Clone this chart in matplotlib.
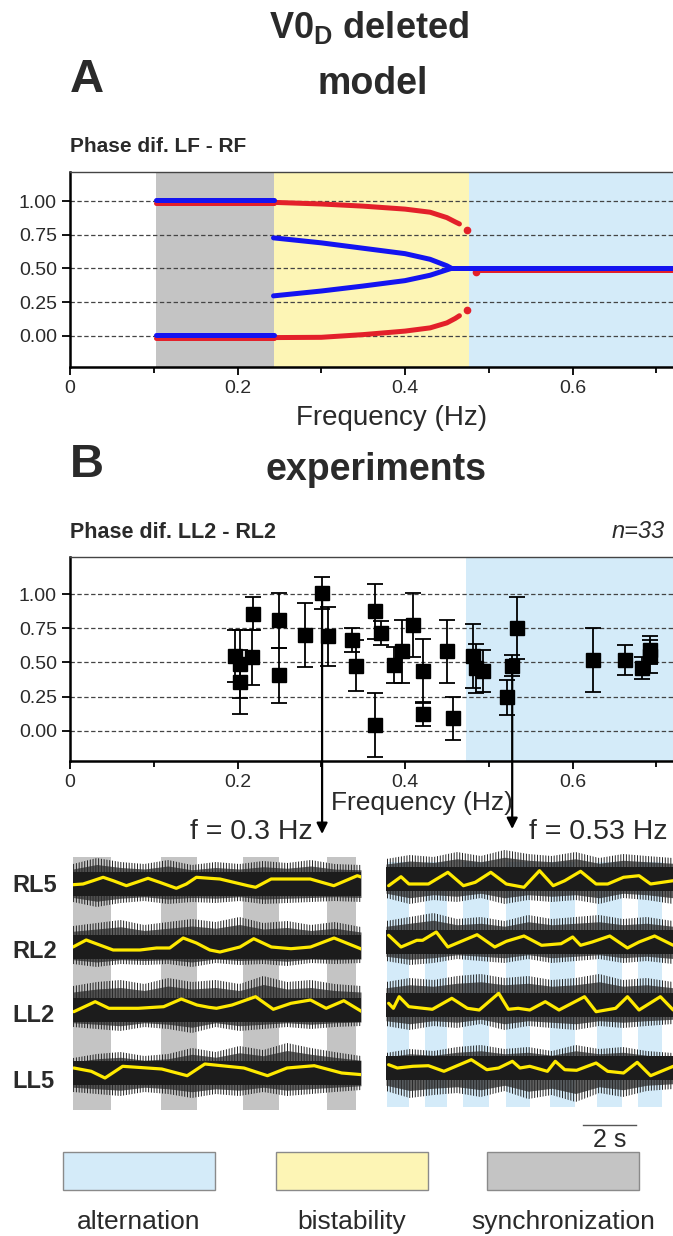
import numpy as np
import matplotlib.pyplot as plt
from matplotlib.patches import Rectangle
from matplotlib.transforms import blended_transform_factory

plt.rcParams['font.family'] = ['Liberation Sans', 'DejaVu Sans']
plt.rcParams['mathtext.fontset'] = 'custom'
plt.rcParams['mathtext.bf'] = 'Liberation Sans:bold'
plt.rcParams['mathtext.rm'] = 'Liberation Sans'
plt.rcParams['hatch.linewidth'] = 0.7

# ---------------- datos ----------------
# regiones (Hz)
sync_lim = [0.103, 0.243]
bist_lim = [0.243, 0.476]
alt_lim_a = [0.476, 0.72]
alt_lim_b = [0.473, 0.72]

# modelo: sincronizacion
sync_f = [0.103, 0.243]
sync_blue_hi = [1.005, 1.005]
sync_red_hi = [0.985, 0.985]
sync_blue_lo = [0.005, 0.005]
sync_red_lo = [-0.018, -0.018]

# modelo: biestabilidad
red_hi_f = [0.243, 0.30, 0.35, 0.40, 0.43, 0.45, 0.46, 0.465]
red_hi_v = [0.99, 0.978, 0.962, 0.94, 0.917, 0.877, 0.845, 0.83]
red_lo_f = [0.243, 0.30, 0.35, 0.40, 0.43, 0.45, 0.46, 0.465]
red_lo_v = [-0.012, -0.01, 0.01, 0.036, 0.06, 0.097, 0.13, 0.15]
red_dots_f = [0.474, 0.474, 0.485]
red_dots_v = [0.785, 0.19, 0.475]
blue_hi_f = [0.243, 0.30, 0.35, 0.40, 0.43, 0.45, 0.455]
blue_hi_v = [0.727, 0.69, 0.65, 0.61, 0.568, 0.52, 0.503]
blue_lo_f = [0.243, 0.30, 0.35, 0.40, 0.43, 0.45, 0.455]
blue_lo_v = [0.297, 0.333, 0.37, 0.41, 0.45, 0.49, 0.50]

# modelo: alternancia
alt_blue_f = [0.455, 0.72]
alt_blue_v = [0.505, 0.505]
alt_red_f = [0.49, 0.72]
alt_red_v = [0.49, 0.49]

# experimentos
exp_f = [0.197, 0.203, 0.203, 0.217, 0.219, 0.250, 0.250, 0.280, 0.301, 0.308,
         0.337, 0.341, 0.364, 0.371, 0.364, 0.387, 0.396, 0.410, 0.422, 0.422,
         0.450, 0.457, 0.481, 0.485, 0.493, 0.522, 0.528, 0.534, 0.624, 0.663,
         0.683, 0.693, 0.693]
exp_phase = [0.548, 0.487, 0.357, 0.538, 0.857, 0.807, 0.406, 0.702, 1.009, 0.690,
             0.665, 0.477, 0.874, 0.715, 0.040, 0.482, 0.580, 0.776, 0.440, 0.121,
             0.580, 0.090, 0.548, 0.457, 0.437, 0.244, 0.477, 0.751, 0.518, 0.518,
             0.457, 0.590, 0.545]
exp_err = [0.19, 0.25, 0.236, 0.20, 0.12, 0.20, 0.20, 0.233, 0.12, 0.215,
           0.09, 0.19, 0.20, 0.09, 0.235, 0.13, 0.233, 0.235, 0.23, 0.085,
           0.233, 0.16, 0.233, 0.18, 0.153, 0.13, 0.08, 0.225, 0.234, 0.11,
           0.08, 0.10, 0.12]
ejemplos = [(0.301, 1.009, 'f = 0.3 Hz'), (0.528, 0.477, 'f = 0.53 Hz')]

# registros (s) : barras de fase
gray_bars = [(0.0, 1.45), (3.33, 4.69), (6.44, 7.8), (9.6, 10.7)]
blue_bars = [(0.02, 0.86), (1.48, 2.3), (2.94, 3.9), (4.54, 5.45),
             (6.24, 7.16), (8.02, 8.98), (9.56, 10.5)]
nervios = ['RL5', 'RL2', 'LL2', 'LL5']

# envolvente integrada (linea amarilla), tiempo (s) y amplitud (u.a.)
izq_t = [
    [0.0, 0.38, 0.76, 1.14, 1.52, 2.02, 2.40, 2.84, 3.28, 3.91, 4.29, 4.67, 5.18, 5.56,
     6.62, 6.91, 7.50, 8.98, 9.87, 10.76, 10.94],
    [0.0, 0.50, 1.01, 1.52, 2.53, 3.16, 3.66, 4.17, 4.67, 5.18, 5.56, 6.32, 6.84, 7.51,
     8.25, 8.99, 9.88, 10.94],
    [0.03, 0.84, 1.36, 2.47, 3.43, 4.10, 4.69, 5.14, 5.43, 6.02, 6.91, 7.58, 8.25, 8.99,
     9.58, 10.25, 10.94],
    [0.03, 0.69, 1.21, 1.88, 3.36, 4.32, 4.99, 6.47, 7.36, 8.10, 9.13, 10.17, 10.94],
]
izq_y = [
    [-0.7, 0, 3.3, 6.7, 3.3, -1.7, 1.7, 5.7, 1.7, -4.3, 0, 6.7, 5.7, 5,
     -1.7, -3.3, 5, 5, -1.7, 8.3, 6.7],
    [0, 7, 2, -3, -3, -1, -1, 9, 4, -3, -5, 0, 8.3, 0, -1.7, 0, 9, -2.3],
    [-1.7, 8.3, 1.7, 1.7, 3.3, 11, 5, 2.7, 1.7, 5, 13.3, 0.7, 6.7, 10, 1.7, 9.3, -1.7],
    [5, 1.7, -5, 6.7, 4, -2.7, 9, 5, -2.7, 5, 7.3, 0, -1.7],
]
der_t = [
    [0.10, 0.57, 0.87, 1.61, 2.35, 2.94, 3.39, 3.98, 4.57, 5.24, 5.83, 6.35, 6.79, 7.39,
     7.98, 8.42, 9.02, 9.61, 10.05, 10.91],
    [0.10, 0.57, 1.17, 1.39, 1.91, 2.35, 2.80, 3.46, 4.13, 4.57, 5.24, 5.91, 6.65, 7.09,
     7.39, 7.83, 8.50, 9.17, 9.61, 10.20, 10.91],
    [0.10, 0.28, 0.50, 0.87, 1.76, 2.50, 3.09, 3.54, 4.28, 4.65, 5.02, 5.46, 6.05, 6.57,
     7.54, 7.98, 8.72, 9.17, 9.61, 10.42, 10.91],
    [0.10, 0.43, 1.02, 1.61, 2.20, 3.24, 3.83, 4.28, 4.80, 5.09, 5.46, 6.13, 6.43, 6.79,
     7.24, 7.98, 8.42, 9.02, 9.54, 10.05, 10.91],
]
der_y = [
    [-6.7, 2.3, -5, -5, 6.7, -6.7, -3.3, 6.7, -5, -8.3, 8.3, -6.7, -1.7, 7.7, -5, -5, 1.7, 3.3, -5, -1.7],
    [6.7, -5, 1.7, 1.7, 10, -5, 0, 7.3, -5, 0.7, 6, -3.3, -1.7, 5, -3.3, 0, 6, -6, 0, 6, -3.3],
    [1.7, -3.3, 8.3, -1.7, -4.3, 6.7, -3.3, -5, 11.7, -4.3, -3.3, -5, 3.3, -5, 8.3, -6.7, -3.3, 8.3, -5, 8.3, -5],
    [3.3, 0, 1.7, 2.3, -3.3, 8.3, -1.7, 0, 6.7, 0, 1.7, -3.3, 6.7, -1.7, -2.3, 5, -3.3, -5, 5.7, -7.7, 1.7],
]

# envolvente del ruido EMG (u.a. por encima / debajo de la linea base)
banda_t = [0, 0.9, 1.8, 2.7, 3.6, 4.5, 5.4, 6.3, 7.2, 8.1, 9.0, 9.9, 10.9]
izq_sup = [[20, 26, 22, 20, 24, 19, 22, 20, 23, 21, 24, 20, 19],
           [21, 24, 27, 22, 25, 28, 25, 30, 24, 26, 22, 25, 20],
           [24, 28, 30, 26, 32, 28, 30, 26, 34, 28, 30, 26, 24],
           [15, 19, 21, 17, 19, 25, 21, 27, 23, 30, 25, 21, 17]]
izq_inf = [[18, 23, 19, 17, 20, 18, 19, 17, 20, 19, 18, 17, 18],
           [17, 20, 17, 18, 17, 20, 16, 18, 17, 19, 16, 17, 16],
           [17, 19, 21, 17, 19, 23, 17, 21, 19, 17, 19, 17, 16],
           [19, 21, 23, 19, 21, 25, 21, 23, 19, 23, 21, 19, 17]]
der_sup = [[20, 24, 22, 27, 23, 29, 25, 23, 27, 21, 25, 23, 21],
           [21, 25, 29, 23, 25, 21, 27, 23, 25, 27, 23, 25, 21],
           [23, 27, 25, 29, 31, 27, 29, 25, 27, 31, 25, 27, 23],
           [15, 19, 17, 21, 23, 19, 21, 17, 23, 19, 21, 17, 15]]
der_inf = [[19, 25, 21, 23, 19, 25, 21, 23, 21, 25, 19, 21, 25],
           [19, 23, 21, 17, 19, 21, 17, 21, 19, 17, 21, 19, 22],
           [21, 25, 21, 23, 19, 25, 21, 23, 25, 21, 23, 21, 19],
           [23, 30, 27, 25, 29, 23, 31, 27, 34, 25, 29, 23, 21]]
denso = 12

# ---------------- figura ----------------
W, H = 673, 1236
fig = plt.figure(figsize=(W / 100, H / 100), dpi=100)

def caja(l, t, r, b):
    return [l / W, 1 - b / H, (r - l) / W, (b - t) / H]

C_ALT = '#d4ebf9'
C_BIST = '#fdf5b5'
C_SYNC = '#c4c4c4'
TXT = '#2a2a2a'

def ejes_fase(ax, ylim):
    ax.set_xlim(0, 0.72)
    ax.set_ylim(*ylim)
    ax.set_yticks([0, 0.25, 0.5, 0.75, 1.0])
    ax.set_yticklabels(['0.00', '0.25', '0.50', '0.75', '1.00'])
    ax.set_xticks([0, 0.2, 0.4, 0.6])
    ax.set_xticklabels(['0', '0.2', '0.4', '0.6'])
    ax.set_xticks([0.1, 0.3, 0.5, 0.7], minor=True)
    ax.tick_params(axis='both', labelsize=14, labelcolor=TXT, width=1.3, length=6)
    ax.tick_params(axis='x', which='minor', length=4, width=1.3)
    ax.spines['right'].set_visible(False)
    ax.spines['left'].set_linewidth(1.8)
    ax.spines['bottom'].set_linewidth(1.8)
    ax.spines['top'].set_linewidth(1.0)
    ax.spines['top'].set_color('#444')
    for v in [0, 0.25, 0.5, 0.75, 1.0]:
        ax.axhline(v, color='#444', lw=0.9, ls=(0, (3.5, 2)), zorder=1)

# ---- panel A ----
axA = fig.add_axes(caja(70, 172, 673, 367))
ejes_fase(axA, (-0.23, 1.215))
axA.axvspan(*sync_lim, color=C_SYNC, lw=0, zorder=0)
axA.axvspan(*bist_lim, color=C_BIST, lw=0, zorder=0)
axA.axvspan(*alt_lim_a, color=C_ALT, lw=0, zorder=0)
ROJO, AZUL = '#e3202a', '#1414f0'
kw = dict(lw=3.6, solid_capstyle='round', zorder=3)
axA.plot(sync_f, sync_red_hi, color=ROJO, **kw)
axA.plot(sync_f, sync_red_lo, color=ROJO, **kw)
axA.plot(red_hi_f, red_hi_v, color=ROJO, **kw)
axA.plot(red_lo_f, red_lo_v, color=ROJO, **kw)
axA.plot(alt_red_f, alt_red_v, color=ROJO, **kw)
axA.plot(red_dots_f, red_dots_v, 'o', color=ROJO, ms=4.5, zorder=3)
axA.plot(sync_f, sync_blue_hi, color=AZUL, **kw)
axA.plot(sync_f, sync_blue_lo, color=AZUL, **kw)
axA.plot(blue_hi_f, blue_hi_v, color=AZUL, **kw)
axA.plot(blue_lo_f, blue_lo_v, color=AZUL, **kw)
axA.plot(alt_blue_f, alt_blue_v, color=AZUL, **kw)

fig.text(369 / W, 1 - 28 / H, r'V0$_{\mathbf{D}}$ deleted', ha='center', va='center',
         fontsize=26, fontweight='bold', color=TXT)
fig.text(70 / W, 1 - 80 / H, 'A', ha='left', va='center', fontsize=34,
         fontweight='bold', color=TXT)
fig.text(373 / W, 1 - 84 / H, 'model', ha='center', va='center', fontsize=27,
         fontweight='bold', color=TXT)
fig.text(70 / W, 1 - 147 / H, 'Phase dif. LF - RF', ha='left', va='center',
         fontsize=15, fontweight='bold', color=TXT)
fig.text(392 / W, 1 - 418 / H, 'Frequency (Hz)', ha='center', va='center',
         fontsize=20, color=TXT)

# ---- panel B ----
axB = fig.add_axes(caja(70, 557, 673, 761))
ejes_fase(axB, (-0.222, 1.272))
axB.axvspan(*alt_lim_b, color=C_ALT, lw=0, zorder=0)
axB.errorbar(exp_f, exp_phase, yerr=exp_err, fmt='s', color='k', ms=10.5,
             ecolor='k', elinewidth=1.3, capsize=5.5, capthick=1.3, zorder=4)

fig.text(70 / W, 1 - 465 / H, 'B', ha='left', va='center', fontsize=34,
         fontweight='bold', color=TXT)
fig.text(376 / W, 1 - 470 / H, 'experiments', ha='center', va='center', fontsize=27,
         fontweight='bold', color=TXT)
fig.text(70 / W, 1 - 532 / H, 'Phase dif. LL2 - RL2', ha='left', va='center',
         fontsize=15.5, fontweight='bold', color=TXT)
fig.text(665 / W, 1 - 532 / H, 'n=33', ha='right', va='center', fontsize=17,
         style='italic', color=TXT)
fig.text(422 / W, 1 - 803 / H, 'Frequency (Hz)', ha='center', va='center',
         fontsize=19, color=TXT)

trB = blended_transform_factory(axB.transData, fig.transFigure)
puntas = [1 - 834 / H, 1 - 829 / H]
for (f0, p0, lab), yp in zip(ejemplos, puntas):
    axB.annotate('', xy=(f0, yp), xycoords=trB, xytext=(f0, p0), textcoords='data',
                 annotation_clip=False,
                 arrowprops=dict(arrowstyle='-|>', color='k', lw=1.6,
                                 shrinkA=0, shrinkB=0, mutation_scale=16))
fig.text(313 / W, 1 - 832 / H, ejemplos[0][2], ha='right', va='center',
         fontsize=20.5, color=TXT)
fig.text(529 / W, 1 - 832 / H, ejemplos[1][2], ha='left', va='center',
         fontsize=20.5, color=TXT)

# ---- registros ----
desplaz = [189, 126, 63, 0]

def registros(ax, barras, color_barra, ts, ys, sup, inf, ylo, yhi, bmin, bmax):
    ax.set_xlim(0, 10.9)
    ax.set_ylim(ylo, yhi)
    ax.axis('off')
    for a, b in barras:
        ax.axvspan(a, b, ymin=bmin, ymax=bmax, color=color_barra, lw=0, zorder=0)
    for k in range(4):
        base = desplaz[k]
        s = np.array(sup[k], float)
        i = np.array(inf[k], float)
        ax.fill_between(banda_t, base - i, base + s, facecolor='none',
                        edgecolor='#202020', hatch='||||||', lw=0, zorder=1)
        ax.fill_between(banda_t, base - i * 0.75, base + s * 0.75,
                        color='#2a2a2a', alpha=0.75, lw=0, zorder=1)
        ax.fill_between([0, 10.9], base - denso, base + denso, color='#1c1c1c',
                        lw=0, zorder=2)
        ax.plot(ts[k], base + np.array(ys[k]), color='#ffea00', lw=2.3,
                solid_joinstyle='round', solid_capstyle='round', zorder=3)

axL = fig.add_axes(caja(73, 850, 361, 1115))
registros(axL, gray_bars, C_SYNC, izq_t, izq_y, izq_sup, izq_inf,
          -42, 223, 5 / 265, 258 / 265)
axR = fig.add_axes(caja(386, 845, 673, 1110))
registros(axR, blue_bars, C_ALT, der_t, der_y, der_sup, der_inf,
          -42, 223, 3 / 265, 248 / 265)

for nom, yp in zip(nervios, [885, 951, 1016, 1081]):
    fig.text(12 / W, 1 - yp / H, nom, ha='left', va='center', fontsize=17,
             fontweight='bold', color=TXT)

# barra de escala 2 s
axR.plot([7.5, 9.5], [-57, -57], color='#555', lw=1.0, clip_on=False)
axR.text(8.5, -60, '2 s', ha='center', va='top', fontsize=18, color=TXT,
         clip_on=False)

# ---- leyenda ----
leyenda = [('alternation', C_ALT, 63), ('bistability', C_BIST, 276),
           ('synchronization', C_SYNC, 487)]
for lab, col, x0 in leyenda:
    fig.add_artist(Rectangle((x0 / W, 1 - 1190 / H), 152 / W, 38 / H,
                             transform=fig.transFigure, facecolor=col,
                             edgecolor='#8a8a8a', lw=1.0))
    fig.text((x0 + 76) / W, 1 - 1222 / H, lab, ha='center', va='center',
             fontsize=19, color=TXT)

fig.savefig('out.png', dpi=100)
